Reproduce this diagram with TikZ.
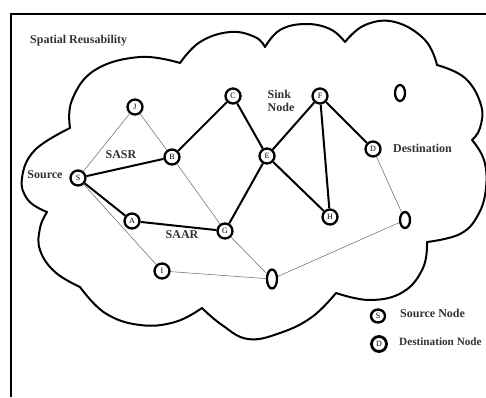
\documentclass[tikz,border=0pt]{standalone}
\usepackage{fontspec}
\setmainfont{Liberation Serif}
\usetikzlibrary{shapes.geometric}
\begin{document}
\begin{tikzpicture}[x=1pt,y=-1pt,
  nd/.style={circle,draw,line width=2.3pt,minimum size=15pt,inner sep=0pt,font=\fontsize{8}{8}\selectfont},
  ov/.style={ellipse,draw,line width=2.3pt,minimum width=10pt,minimum height=16pt,inner sep=0pt},
  thick edge/.style={line width=2pt},
  thin edge/.style={line width=0.5pt,black!60},
  lbl/.style={font=\fontsize{12}{13}\selectfont\bfseries,text=black!80,inner sep=0pt},
  cloud line/.style={line width=2pt,line cap=round,line join=round}]
\useasboundingbox (0,0) rectangle (486,397);
\fill[white] (0,0) rectangle (486,397);
% frame
\draw[line width=2.2pt] (486,14) -- (11,14) -- (11,397);
% cloud
\draw[cloud line] plot[smooth,tension=0.7] coordinates {(70,128) (72,100) (95,70) (140,57) (180,63)};
\draw[cloud line] plot[smooth,tension=0.7] coordinates {(180,63) (200,42) (230,32) (255,37) (265,47)};
\draw[cloud line] plot[smooth,tension=0.7] coordinates {(265,47) (280,30) (305,24) (330,29) (345,42)};
\draw[cloud line] plot[smooth,tension=0.7] coordinates {(345,42) (365,25) (395,22) (425,40) (437,65)};
\draw[cloud line] plot[smooth,tension=0.7] coordinates {(437,65) (465,78) (481,105) (480,128) (472,140)};
\draw[cloud line] plot[smooth,tension=0.7] coordinates {(472,140) (484,160) (486,188) (478,215) (460,234) (427,242)};
\draw[cloud line] plot[smooth,tension=0.7] coordinates {(427,242) (423,268) (403,292) (370,300) (336,293)};
\draw[cloud line] plot[smooth,tension=0.7] coordinates {(336,293) (312,317) (280,333) (248,339) (222,325) (202,308)};
\draw[cloud line] plot[smooth,tension=0.7] coordinates {(202,308) (175,322) (140,325) (105,313) (80,287)};
\draw[cloud line] plot[smooth,tension=0.7] coordinates {(80,287) (55,272) (40,250) (40,228) (47,212)};
\draw[cloud line] plot[smooth,tension=0.7] coordinates {(47,212) (28,200) (22,178) (35,150) (70,128)};
% nodes
\node[nd] (J) at (135,107) {J};
\node[nd] (C) at (233,96) {C};
\node[nd] (B) at (172,157) {B};
\node[nd] (S) at (78,178) {S};
\node[nd] (F) at (320,96) {F};
\node[nd] (E) at (267,156) {E};
\node[nd] (D) at (373,149) {D};
\node[nd] (A) at (132,221) {A};
\node[nd] (G) at (225,231) {G};
\node[nd] (I) at (162,271) {I};
\node[nd] (H) at (330,217) {H};
\node[ov] (O1) at (400,93) {};
\node[ov] (O2) at (405,220) {};
\node[ov,minimum height=19pt] (O3) at (272,279) {};
% thick edges
\draw[thick edge] (S) -- (B);
\draw[thick edge] (B) -- (C);
\draw[thick edge] (C) -- (E);
\draw[thick edge] (E) -- (F);
\draw[thick edge] (F) -- (D);
\draw[thick edge] (F) -- (H);
\draw[thick edge] (E) -- (H);
\draw[thick edge] (E) -- (G);
\draw[thick edge] (G) -- (A);
\draw[thick edge] (A) -- (S);
% thin edges
\draw[thin edge] (S) -- (J);
\draw[thin edge] (J) -- (B);
\draw[thin edge] (B) -- (G);
\draw[thin edge] (G) -- (O3);
\draw[thin edge] (S) -- (I);
\draw[thin edge] (I) -- (O3);
\draw[thin edge] (O3) -- (O2);
\draw[thin edge] (O2) -- (D);
% labels
\node[lbl,anchor=west] (t1) at (30,41) {Spatial Reusability};
\node[lbl] (t2) at (45,175) {Source};
\node[lbl] (t3) at (121,155) {SASR};
\node[lbl] (t4) at (182,235) {SAAR};
\node[lbl,align=left] (t5) at (281,101) {Sink\\Node};
\node[lbl,anchor=west] (t6) at (393,148) {Destination};
% legend
\node[nd,ellipse,minimum width=14pt,minimum height=13pt,line width=2.4pt] (LS) at (378,316) {S};
\node[nd,minimum size=15pt,line width=2.8pt] (LD) at (379,344) {D};
\node[lbl,anchor=west] (t7) at (400,313) {Source Node};
\node[lbl,anchor=west,font=\fontsize{11.2}{12}\selectfont\bfseries] (t8) at (399,342) {Destination Node};
\end{tikzpicture}
\end{document}
